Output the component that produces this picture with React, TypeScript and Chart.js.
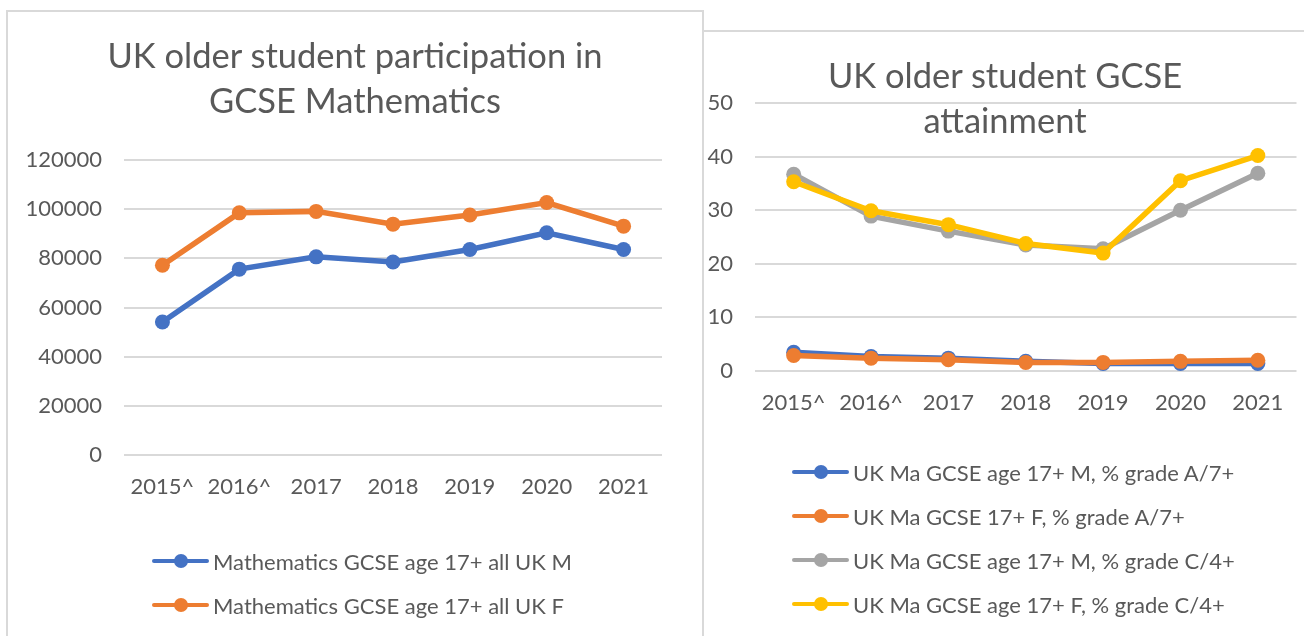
import React, { useEffect, useRef } from "react";
import { Chart, registerables } from "chart.js";

Chart.register(...registerables);

// ---------- data ----------
const categories = ["2015^", "2016^", "2017", "2018", "2019", "2020", "2021"];

const participationLabels = [
  "Mathematics GCSE age 17+ all UK M",
  "Mathematics GCSE age 17+ all UK F",
];
const participationM = [54100, 75600, 80600, 78500, 83600, 90400, 83600];
const participationF = [77200, 98500, 99100, 93900, 97600, 102700, 93100];
const participationMax = 120000;
const participationStep = 20000;

const attainmentLabels = [
  "UK Ma GCSE age 17+ M, % grade A/7+",
  "UK Ma GCSE 17+ F, % grade A/7+",
  "UK Ma GCSE age 17+ M, % grade C/4+",
  "UK Ma GCSE age 17+ F, % grade C/4+",
];
const gradeA_M = [3.5, 2.7, 2.4, 1.8, 1.4, 1.4, 1.4];
const gradeA_F = [2.9, 2.4, 2.1, 1.6, 1.6, 1.8, 2.0];
const gradeC_M = [36.7, 28.9, 26.1, 23.5, 22.8, 30.0, 36.9];
const gradeC_F = [35.3, 29.9, 27.3, 23.8, 22.0, 35.5, 40.2];
const attainmentMax = 50;
const attainmentStep = 10;

const leftTitle = ["UK older student participation in", "GCSE Mathematics"];
const rightTitle = ["UK older student GCSE", "attainment"];

const BLUE = "#4472C4";
const ORANGE = "#ED7D31";
const GRAY = "#A5A5A5";
const YELLOW = "#FFC000";
const TEXT = "#595959";
const GRID = "#D9D9D9";
const FONT = "Lato, 'Open Sans', sans-serif";

function makeDataset(label: string, data: number[], color: string, order: number) {
  return {
    label,
    data,
    borderColor: color,
    backgroundColor: color,
    borderWidth: 5.5,
    pointRadius: 7.5,
    pointHoverRadius: 7.5,
    pointBorderWidth: 0,
    pointBackgroundColor: color,
    tension: 0,
    order,
  };
}

type ChartBoxProps = {
  left: number;
  top: number;
  width: number;
  height: number;
  datasets: any[];
  yMax: number;
  yStep: number;
  area: { left: number; right: number; top: number; bottom: number };
};

function ChartBox({ left, top, width, height, datasets, yMax, yStep, area }: ChartBoxProps) {
  const ref = useRef<HTMLCanvasElement | null>(null);
  useEffect(() => {
    if (!ref.current) return;
    const chart = new Chart(ref.current, {
      type: "line",
      data: { labels: categories, datasets },
      options: {
        responsive: false,
        animation: false,
        devicePixelRatio: 1,
        layout: {
          padding: { left: 0, right: width - area.right, top: area.top, bottom: 0 },
        },
        plugins: {
          legend: { display: false },
          title: { display: false },
          tooltip: { enabled: false },
        },
        scales: {
          x: {
            type: "category",
            offset: true,
            grid: { display: false },
            border: { display: false },
            ticks: {
              color: TEXT,
              font: { family: FONT, size: 22 },
              padding: 11,
              maxRotation: 0,
              autoSkip: false,
            },
            afterFit: (s: any) => {
              s.height = height - area.bottom;
            },
          },
          y: {
            type: "linear",
            min: 0,
            max: yMax,
            ticks: {
              stepSize: yStep,
              color: TEXT,
              font: { family: FONT, size: 22 },
              padding: 22,
              callback: (v: any) => String(v),
            },
            grid: { color: GRID, lineWidth: 2, drawTicks: false },
            border: { display: false },
            afterFit: (s: any) => {
              s.width = area.left;
            },
          },
        },
      } as any,
    });
    return () => chart.destroy();
  }, []);
  return (
    <canvas
      ref={ref}
      width={width}
      height={height}
      style={{ position: "absolute", left, top, width, height }}
    />
  );
}

function Legend({
  left,
  top,
  labels,
  colors,
}: {
  left: number;
  top: number;
  labels: string[];
  colors: string[];
}) {
  return (
    <div style={{ position: "absolute", left, top }}>
      {labels.map((l, i) => (
        <div
          key={i}
          style={{ display: "flex", alignItems: "center", height: 44, whiteSpace: "nowrap" }}
        >
          <div style={{ position: "relative", width: 57, height: 14, marginRight: 4 }}>
            <div
              style={{
                position: "absolute",
                left: 0,
                right: 0,
                top: 5,
                height: 4,
                borderRadius: 2,
                background: colors[i],
              }}
            />
            <div
              style={{
                position: "absolute",
                left: 22,
                top: 0,
                width: 14,
                height: 14,
                borderRadius: 7,
                background: colors[i],
              }}
            />
          </div>
          <span style={{ fontFamily: FONT, fontSize: 22, color: TEXT }}>{l}</span>
        </div>
      ))}
    </div>
  );
}

function Title({ lines, left, top, width }: { lines: string[]; left: number; top: number; width: number }) {
  return (
    <div
      style={{
        position: "absolute",
        left,
        top,
        width,
        textAlign: "center",
        fontFamily: FONT,
        fontSize: 34.5,
        lineHeight: "45px",
        color: TEXT,
        whiteSpace: "nowrap",
      }}
    >
      {lines.map((l, i) => (
        <div key={i}>{l}</div>
      ))}
    </div>
  );
}

export default function App() {
  const leftSets = [
    makeDataset(participationLabels[0], participationM, BLUE, 2),
    makeDataset(participationLabels[1], participationF, ORANGE, 1),
  ];
  const rightSets = [
    makeDataset(attainmentLabels[0], gradeA_M, BLUE, 4),
    makeDataset(attainmentLabels[1], gradeA_F, ORANGE, 3),
    makeDataset(attainmentLabels[2], gradeC_M, GRAY, 2),
    makeDataset(attainmentLabels[3], gradeC_F, YELLOW, 1),
  ];
  return (
    <div
      style={{
        position: "fixed",
        left: 0,
        top: 0,
        width: 1304,
        height: 636,
        overflow: "hidden",
        background: "#fff",
      }}
    >
      {/* left panel */}
      <div
        style={{
          position: "absolute",
          left: 6,
          top: 10,
          width: 698,
          height: 660,
          border: `2px solid ${GRID}`,
          boxSizing: "border-box",
          background: "#fff",
        }}
      />
      <ChartBox
        left={0}
        top={0}
        width={703}
        height={636}
        datasets={leftSets}
        yMax={participationMax}
        yStep={participationStep}
        area={{ left: 124, right: 662, top: 160, bottom: 455 }}
      />
      <Title lines={leftTitle} left={6} top={32} width={698} />
      <Legend left={152} top={539} labels={participationLabels} colors={[BLUE, ORANGE]} />

      {/* right panel */}
      <div
        style={{
          position: "absolute",
          left: 702,
          top: 30,
          width: 640,
          height: 660,
          border: `2px solid ${GRID}`,
          boxSizing: "border-box",
          background: "#fff",
        }}
      />
      <ChartBox
        left={703}
        top={0}
        width={601}
        height={636}
        datasets={rightSets}
        yMax={attainmentMax}
        yStep={attainmentStep}
        area={{ left: 52, right: 596, top: 103, bottom: 371 }}
      />
      <Title lines={rightTitle} left={705} top={52} width={600} />
      <Legend
        left={792}
        top={450}
        labels={attainmentLabels}
        colors={[BLUE, ORANGE, GRAY, YELLOW]}
      />
    </div>
  );
}
